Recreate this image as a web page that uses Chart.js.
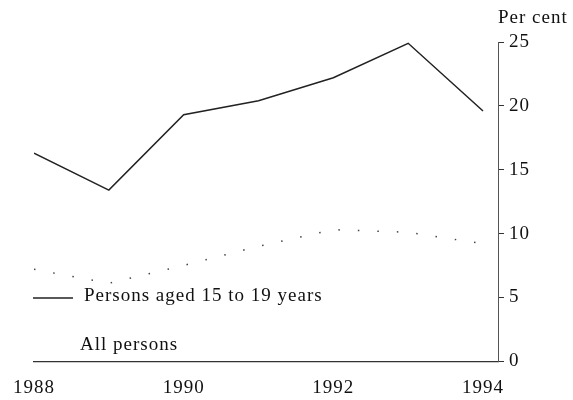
<!DOCTYPE html>
<html lang="en">
  <head>
    <meta charset="UTF-8" />
    <title>Per cent, 1988 to 1994</title>
    <script src="https://cdn.jsdelivr.net/npm/chart.js"></script>
    <style>
      body {
        margin: 0;
        background: #fff;
      }
      .wrap {
        width: 573px;
        height: 400px;
      }
    </style>
  </head>
  <body>
    <div class="wrap"><canvas id="chart" width="573" height="400"></canvas></div>
    <script>
      const years = [1988, 1989, 1990, 1991, 1992, 1993, 1994];
      const youth = [16.3, 13.4, 19.3, 20.4, 22.2, 24.9, 19.6];
      const allPersons = [7.2, 6.1, 7.5, 9.0, 10.3, 10.1, 9.2];
      const seriesNames = ["Persons aged 15 to 19 years", "All persons"];
      const xTicks = [1988, 1990, 1992, 1994];
      const yTicks = [0, 5, 10, 15, 20, 25];

      const serif = "'Liberation Serif', 'DejaVu Serif', serif";

      // the scanned type is set wide, so open up letter spacing a little
      const spacing = {
        id: "spacing",
        beforeInit(chart) {
          chart.ctx.letterSpacing = "1px";
        },
        beforeDraw(chart) {
          chart.ctx.letterSpacing = "1px";
        },
      };

      // legend + "Per cent" heading, drawn as text on the canvas
      const annotate = {
        id: "annotate",
        afterDraw(chart) {
          const ctx = chart.ctx;
          const area = chart.chartArea;
          ctx.save();
          ctx.fillStyle = "#111";
          ctx.font = "19px " + serif;
          ctx.textBaseline = "middle";
          ctx.textAlign = "left";
          ctx.fillText("Per cent", area.right, 18);

          // legend entry 1: solid sample
          ctx.strokeStyle = "#222";
          ctx.lineWidth = 1.5;
          ctx.beginPath();
          ctx.moveTo(33, 298);
          ctx.lineTo(73, 298);
          ctx.stroke();
          ctx.fillText(seriesNames[0], 84, 296);

          // legend entry 2
          ctx.fillText(seriesNames[1], 80, 345);
          ctx.restore();
        },
      };

      new Chart(document.getElementById("chart"), {
        type: "line",
        data: {
          datasets: [
            {
              label: seriesNames[0],
              data: years.map((y, i) => ({ x: y, y: youth[i] })),
              borderColor: "#222",
              borderWidth: 1.5,
              pointRadius: 0,
              tension: 0,
            },
            {
              label: seriesNames[1],
              data: years.map((y, i) => ({ x: y, y: allPersons[i] })),
              borderColor: "#444",
              borderWidth: 1.5,
              borderDash: [1.5, 18],
              pointRadius: 0,
              tension: 0,
            },
          ],
        },
        options: {
          responsive: false,
          animation: false,
          layout: { padding: { left: 10, top: 42, right: 40, bottom: -14 } },
          plugins: {
            legend: { display: false },
            tooltip: { enabled: false },
          },
          scales: {
            x: {
              type: "linear",
              min: 1988,
              max: 1994.2,
              afterBuildTicks: (scale) => {
                scale.ticks = xTicks.map((v) => ({ value: v }));
              },
              grid: { drawOnChartArea: false, drawTicks: false },
              border: { display: true, color: "#333", width: 1.2 },
              ticks: {
                color: "#111",
                padding: 15,
                maxRotation: 0,
                font: { family: serif, size: 19 },
                callback: (v) => String(v),
              },
            },
            y: {
              position: "right",
              min: 0,
              max: 25,
              afterBuildTicks: (scale) => {
                scale.ticks = yTicks.map((v) => ({ value: v }));
              },
              grid: {
                drawOnChartArea: false,
                drawTicks: true,
                tickLength: 6,
                color: "#333",
              },
              border: { display: true, color: "#555", width: 1, dash: [2, 2] },
              ticks: {
                color: "#111",
                padding: 5,
                font: { family: serif, size: 19 },
              },
            },
          },
        },
        plugins: [spacing, annotate],
      });
    </script>
  </body>
</html>
